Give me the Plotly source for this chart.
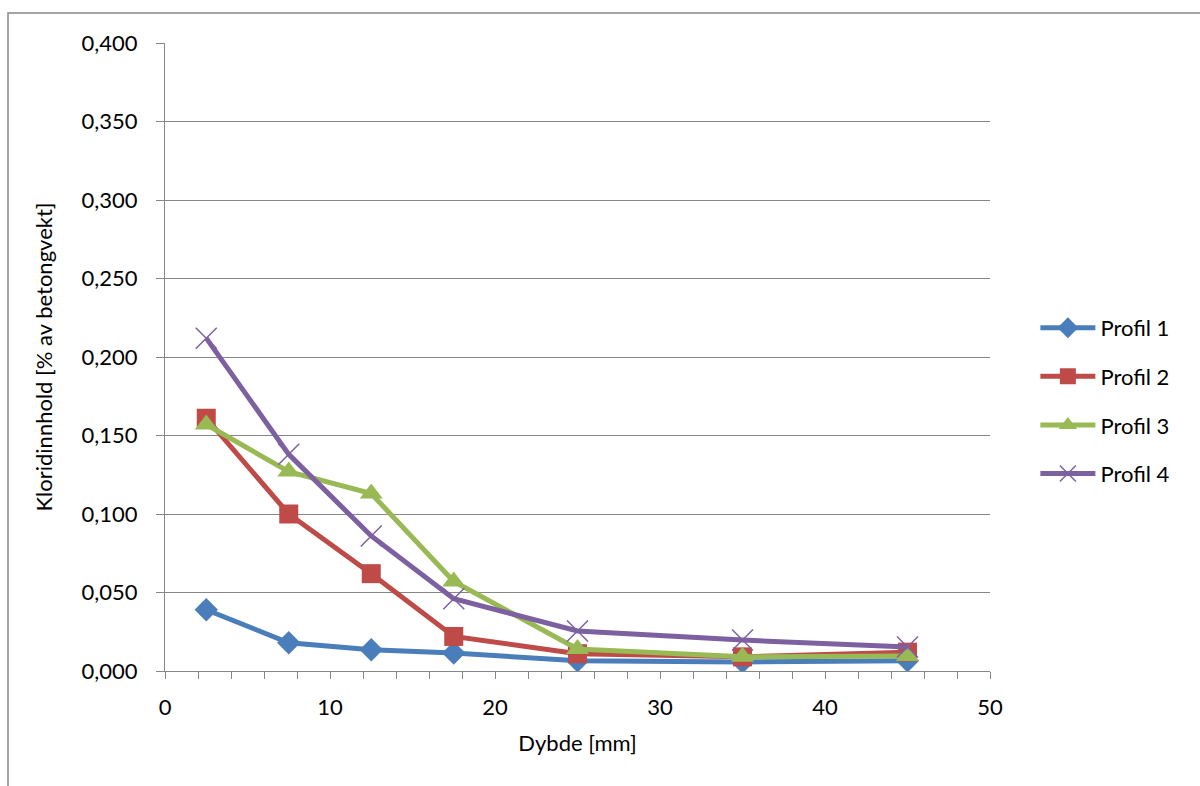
import plotly.graph_objects as go

depth = [2.5, 7.5, 12.5, 17.5, 25, 35, 45]
profil1 = [0.039, 0.018, 0.0135, 0.0115, 0.0065, 0.0058, 0.0065]
profil2 = [0.161, 0.100, 0.062, 0.022, 0.011, 0.009, 0.012]
profil3 = [0.157, 0.127, 0.113, 0.057, 0.014, 0.009, 0.0095]
profil4 = [0.212, 0.138, 0.086, 0.046, 0.0255, 0.0197, 0.0153]
names = ["Profil 1", "Profil 2", "Profil 3", "Profil 4"]
colors = ["#4A7EBB", "#BE4B48", "#98B954", "#7D60A0"]
symbols = ["diamond", "square", "triangle-up", "x-thin"]
sizes = [18, 19, 20, 21]

fig = go.Figure()
for i, ys in enumerate([profil1, profil2, profil3, profil4]):
    marker = dict(symbol=symbols[i], size=sizes[i], color=colors[i])
    if symbols[i] == "x-thin":
        marker["line"] = dict(color=colors[i], width=1.5)
    fig.add_trace(go.Scatter(
        x=depth, y=ys, name=names[i], mode="lines+markers",
        line=dict(color=colors[i], width=5),
        marker=marker, legendgroup=names[i],
    ))

font = "Lato, 'Open Sans', sans-serif"
fs = 22
fig.update_layout(
    width=1200, height=786,
    margin=dict(l=165, r=210, t=43, b=115),
    paper_bgcolor="white", plot_bgcolor="white",
    separators=", ",
    font=dict(family=font, size=fs, color="#000000"),
    showlegend=True,
    legend=dict(x=1.055, y=0.43, xanchor="left", yanchor="middle",
                tracegroupgap=17, itemwidth=55,
                font=dict(family=font, size=fs)),
    xaxis=dict(range=[0, 50], dtick=10, tick0=0,
               showgrid=False, zeroline=False,
               showline=True, linecolor="#868686", linewidth=1,
               ticks="outside", ticklen=7, tickcolor="#868686",
               ticklabelstandoff=10,
               minor=dict(dtick=2, ticks="outside", ticklen=7, tickcolor="#868686"),
               title=dict(text="Dybde [mm]", standoff=16,
                          font=dict(family=font, size=fs))),
    yaxis=dict(range=[0, 0.4], dtick=0.05, tick0=0, tickformat=".3f",
               showgrid=True, gridcolor="#868686", gridwidth=1,
               zeroline=False,
               showline=True, linecolor="#868686", linewidth=1,
               ticks="outside", ticklen=8, tickcolor="#868686",
               ticklabelstandoff=14,
               title=dict(text="Kloridinnhold [% av betongvekt]", standoff=22,
                          font=dict(family=font, size=fs))),
)

fig.add_shape(type="rect", xref="paper", yref="paper",
              x0=(8 - 165) / 825, x1=(1230 - 165) / 825,
              y0=(671 - 820) / 628, y1=(671 - 13) / 628,
              line=dict(color="#868686", width=1.5), fillcolor="rgba(0,0,0,0)",
              layer="below")

fig.write_html("out.html")
